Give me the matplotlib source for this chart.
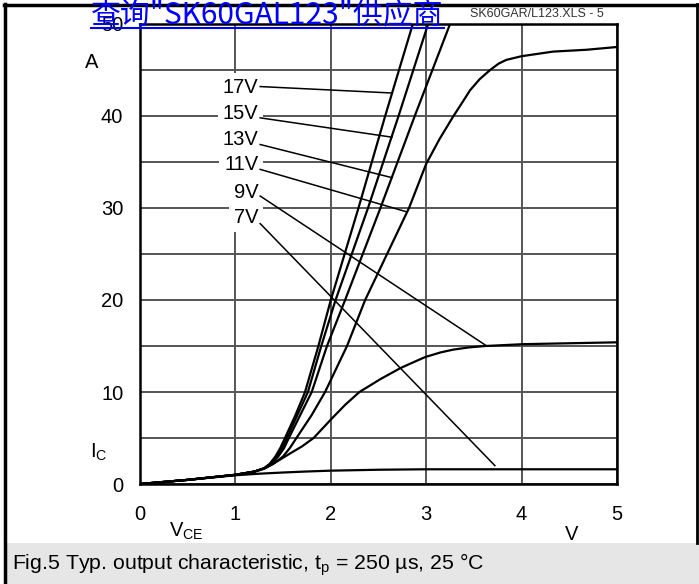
import matplotlib
matplotlib.use("Agg")
import matplotlib.pyplot as plt
from matplotlib.lines import Line2D
from matplotlib.patches import Rectangle

plt.rcParams['font.family'] = ['Liberation Sans', 'DejaVu Sans']
plt.rcParams['mathtext.fontset'] = 'custom'
plt.rcParams['mathtext.rm'] = 'Liberation Sans'

# curves: V_CE (V), I_C (A)
v17 = [0, 0.5, 1.0, 1.2, 1.3, 1.36, 1.42, 1.47, 1.52, 1.63, 1.73, 1.87, 2.0, 2.29, 2.57, 2.86]
i17 = [0, 0.45, 1.0, 1.35, 1.7, 2.2, 3.0, 3.9, 5, 7.5, 10, 15, 20, 30, 40, 50]
v15 = [0, 0.5, 1.0, 1.2, 1.3, 1.37, 1.43, 1.49, 1.54, 1.65, 1.76, 1.90, 2.05, 2.39, 2.71, 3.02]
i15 = [0, 0.45, 1.0, 1.35, 1.7, 2.2, 3.0, 3.9, 5, 7.5, 10, 15, 20, 30, 40, 50]
v13 = [0, 0.5, 1.0, 1.2, 1.3, 1.38, 1.45, 1.51, 1.56, 1.68, 1.80, 1.96, 2.15, 2.52, 2.88, 3.25]
i13 = [0, 0.45, 1.0, 1.35, 1.7, 2.2, 3.0, 3.9, 5, 7.5, 10, 15, 20, 30, 40, 50]
v11 = [0, 0.5, 1.0, 1.2, 1.3, 1.4, 1.5, 1.57, 1.64, 1.80, 1.94, 2.17, 2.36, 2.59, 2.82, 3.0,
       3.14, 3.28, 3.38, 3.46, 3.56, 3.67, 3.76, 3.84, 4.0, 4.33, 4.68, 5.0]
i11 = [0, 0.45, 1.0, 1.35, 1.65, 2.2, 3.0, 3.9, 5, 7.5, 10, 15, 20, 25, 30, 34.8,
       37.5, 39.9, 41.5, 42.8, 44.0, 45.0, 45.7, 46.1, 46.5, 47.0, 47.2, 47.5]
v9 = [0, 0.5, 1.0, 1.2, 1.3, 1.36, 1.46, 1.57, 1.7, 1.82, 2.0, 2.15, 2.3, 2.52, 2.73, 2.88,
      2.99, 3.15, 3.28, 3.45, 3.62, 4.02, 5.0]
i9 = [0, 0.45, 1.0, 1.35, 1.7, 2.0, 2.6, 3.3, 4.1, 5, 7.0, 8.6, 10.0, 11.4, 12.6, 13.3,
      13.8, 14.3, 14.6, 14.85, 15.0, 15.2, 15.4]
v7 = [0, 0.5, 1.0, 1.25, 1.5, 1.75, 2.0, 2.5, 3.0, 5.0]
i7 = [0, 0.45, 0.95, 1.12, 1.25, 1.36, 1.45, 1.55, 1.6, 1.6]

curves = [(v17, i17), (v15, i15), (v13, i13), (v11, i11), (v9, i9), (v7, i7)]

gate_labels = ['17V', '15V', '13V', '11V', '9V', '7V']
label_x = [1.24, 1.24, 1.24, 1.24, 1.24, 1.24]
label_y = [43.1, 40.3, 37.4, 34.7, 31.7, 29.0]
lead_x0 = [1.26, 1.26, 1.26, 1.26, 1.26, 1.26]
lead_y0 = [43.2, 39.8, 36.9, 34.2, 31.3, 28.3]
lead_x1 = [2.64, 2.64, 2.64, 2.79, 3.62, 3.72]
lead_y1 = [42.5, 37.7, 33.3, 29.6, 15.1, 2.0]

xticks = [0, 1, 2, 3, 4, 5]
yticks = [0, 5, 10, 15, 20, 25, 30, 35, 40, 45, 50]
ytick_labels = ['0', '', '10', '', '20', '', '30', '', '40', '', '50']

W, H = 699, 584


def fx(px):
    return px / W


def fy(py):
    return 1 - py / H


fig = plt.figure(figsize=(W / 100, H / 100), dpi=100)

# grey caption band and page frame
fig.patches.append(Rectangle((fx(5), 0), fx(699) - fx(5), fy(543), transform=fig.transFigure,
                             facecolor='#e6e6e6', edgecolor='none', zorder=0))
fig.lines.append(Line2D([fx(5), fx(5)], [fy(4), 0], transform=fig.transFigure, color='black', lw=2.5))
fig.lines.append(Line2D([fx(4), 1], [fy(5), fy(5)], transform=fig.transFigure, color='black', lw=2.5))
fig.lines.append(Line2D([fx(697), fx(697)], [fy(4), fy(543)], transform=fig.transFigure, color='black', lw=2))

ax = fig.add_axes([fx(140), fy(484), fx(617) - fx(140), fy(24) - fy(484)])
ax.set_xlim(0, 5)
ax.set_ylim(0, 50)
ax.set_xticks(xticks)
ax.set_yticks(yticks)
ax.set_yticklabels(ytick_labels)
ax.tick_params(length=0, labelsize=14.5)
ax.tick_params(axis='x', pad=15)
ax.tick_params(axis='y', pad=12)
ax.grid(True, color='#555555', lw=1.4)
ax.set_axisbelow(True)
for s in ax.spines.values():
    s.set_linewidth(1.8)
    s.set_color('black')

for v, i in curves:
    ax.plot(v, i, color='black', lw=1.6, zorder=3, solid_joinstyle='round')

for k in range(len(gate_labels)):
    ax.text(label_x[k], label_y[k], gate_labels[k], ha='right', va='center', fontsize=14.5,
            bbox=dict(boxstyle='square,pad=0.25', fc='white', ec='none'), zorder=4)
    ax.plot([lead_x0[k], lead_x1[k]], [lead_y0[k], lead_y1[k]], color='black', lw=1.1, zorder=5)

# axis annotations
fig.text(fx(92), fy(62), 'A', ha='center', va='center', fontsize=14.5)
fig.text(fx(99), fy(452), r'$\mathregular{I_C}$', ha='center', va='center', fontsize=14.5)
fig.text(fx(186), fy(531), r'$\mathregular{V_{CE}}$', ha='center', va='center', fontsize=14.5)
fig.text(fx(572), fy(535), 'V', ha='center', va='center', fontsize=14.5)

fig.text(fx(12), fy(565), r'Fig.5 Typ. output characteristic, $\mathregular{t_p}$ = 250 µs, 25 °C',
         ha='left', va='center', fontsize=15.3)

# header texts
fig.text(fx(470), fy(14), 'SK60GAR/L123.XLS - 5', ha='left', va='center', fontsize=9, color='#333333')
fig.text(fx(91), fy(24), '查询"SK60GAL123"供应商', ha='left', va='baseline', fontsize=21.5,
         color='#0000ff', family=['Noto Sans CJK SC', 'DejaVu Sans'], zorder=10)
fig.lines.append(Line2D([fx(91), fx(444)], [fy(28), fy(28)], transform=fig.transFigure,
                        color='#0000ff', lw=1.5, zorder=10))

fig.savefig('out.png', dpi=100)
